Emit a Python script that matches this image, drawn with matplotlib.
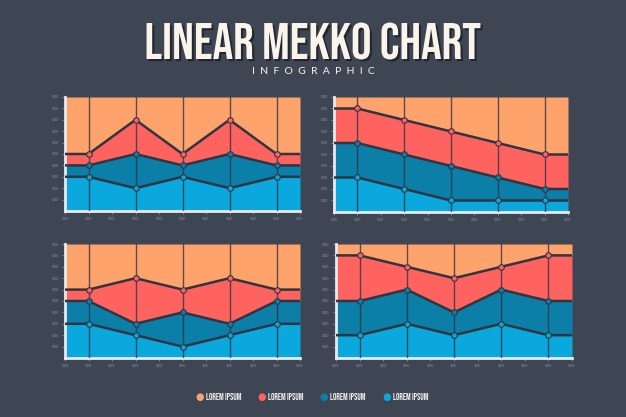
import matplotlib
matplotlib.use('Agg')
import matplotlib.pyplot as plt
import matplotlib.patheffects as pe
import numpy as np

# shared x positions of the data points
x_pts = [1, 3, 5, 7, 9]
x_min, x_max = 0, 10

# boundary heights (top of light blue, top of dark blue, top of red) for each panel
p1_light = [3, 2, 3, 2, 3]
p1_dark = [4, 5, 4, 5, 4]
p1_red = [5, 8, 5, 8, 5]

p2_light = [3, 2, 1, 1, 1]
p2_dark = [6, 5, 4, 3, 2]
p2_red = [9, 8, 7, 6, 5]

p3_light = [3, 2, 1, 2, 3]
p3_dark = [5, 3, 4, 3, 5]
p3_red = [6, 7, 6, 7, 6]

p4_light = [2, 3, 2, 3, 2]
p4_dark = [5, 6, 4, 6, 5]
p4_red = [9, 8, 7, 8, 9]

y_top = 10
legend_labels = ['LOREM IPSUM', 'LOREM IPSUM', 'LOREM IPSUM', 'LOREM IPSUM']

bg = '#3e4553'
c_orange = '#ffa36c'
c_red = '#ff6360'
c_dark = '#0b7fa8'
c_light = '#0aa8dc'
line_col = '#2f3541'
spine_col = '#e8eaee'
tick_col = '#8a909c'
cream = '#fbf4ea'


def extend(vals):
    # hold the first/last value flat out to the axis edges
    xs = [x_min] + x_pts + [x_max]
    ys = [vals[0]] + list(vals) + [vals[-1]]
    return np.array(xs), np.array(ys)


def draw_panel(ax, light, dark, red):
    ax.set_facecolor(bg)
    xs, yl = extend(light)
    _, yd = extend(dark)
    _, yr = extend(red)
    ax.fill_between(xs, 0, yl, color=c_light, lw=0)
    ax.fill_between(xs, yl, yd, color=c_dark, lw=0)
    ax.fill_between(xs, yd, yr, color=c_red, lw=0)
    ax.fill_between(xs, yr, y_top, color=c_orange, lw=0)
    for xv in x_pts:
        ax.plot([xv, xv], [0, y_top], color=line_col, lw=1.0, alpha=0.8, zorder=3)
    for ys, c, v in [(yl, c_light, light), (yd, c_dark, dark), (yr, c_red, red)]:
        ax.plot(xs, ys, color=line_col, lw=1.8, zorder=4, solid_capstyle='butt')
        ax.plot(x_pts, v, 'o', ms=4, mfc=c, mec=line_col, mew=0.8, zorder=5)
    ax.set_xlim(x_min, x_max)
    ax.set_ylim(0, y_top)
    for s in ['top', 'right']:
        ax.spines[s].set_visible(False)
    for s in ['left', 'bottom']:
        ax.spines[s].set_color(spine_col)
        ax.spines[s].set_linewidth(2)
    ax.set_xticks(range(0, 11))
    ax.set_yticks(range(1, 11))
    ax.set_xticklabels(['000'] * 11)
    ax.set_yticklabels(['000'] * 10)
    ax.tick_params(colors=tick_col, labelsize=2.8, length=2.5, width=0.6, pad=2)


fig = plt.figure(figsize=(6.26, 4.17), dpi=100, facecolor=bg)
W, H = 626, 417


def add_ax(l, t, r, b):
    return fig.add_axes([l / W, 1 - b / H, (r - l) / W, (b - t) / H])


draw_panel(add_ax(65, 97, 300, 211), p1_light, p1_dark, p1_red)
draw_panel(add_ax(334, 97, 568, 212), p2_light, p2_dark, p2_red)
draw_panel(add_ax(65, 244, 300, 358), p3_light, p3_dark, p3_red)
draw_panel(add_ax(336, 244, 572, 358), p4_light, p4_dark, p4_red)

fig.text(0.5, 1 - 41 / H, 'LINEAR MEKKO CHART', ha='center', va='center',
         color=cream, fontsize=37, family='Bebas Neue',
         path_effects=[pe.withSimplePatchShadow(offset=(1.5, -1.5), shadow_rgbFace='#1e232c', alpha=0.9)])
fig.text(0.5, 1 - 71 / H, '  '.join('INFOGRAPHIC'), ha='center', va='center',
         color=cream, fontsize=7.5, family='Lato')

leg_x = [200, 262, 324, 387]
for xpx, col, lab in zip(leg_x, [c_orange, c_red, c_dark, c_light], legend_labels):
    fig.text(xpx / W, 1 - 397 / H, '\u25CF', color=col, fontsize=7, ha='center', va='center')
    fig.text((xpx + 6) / W, 1 - 397 / H, lab, color='#f2f2f2', fontsize=6.2,
             ha='left', va='center', family='Bebas Neue')

fig.savefig('out.png', dpi=100, facecolor=bg)
